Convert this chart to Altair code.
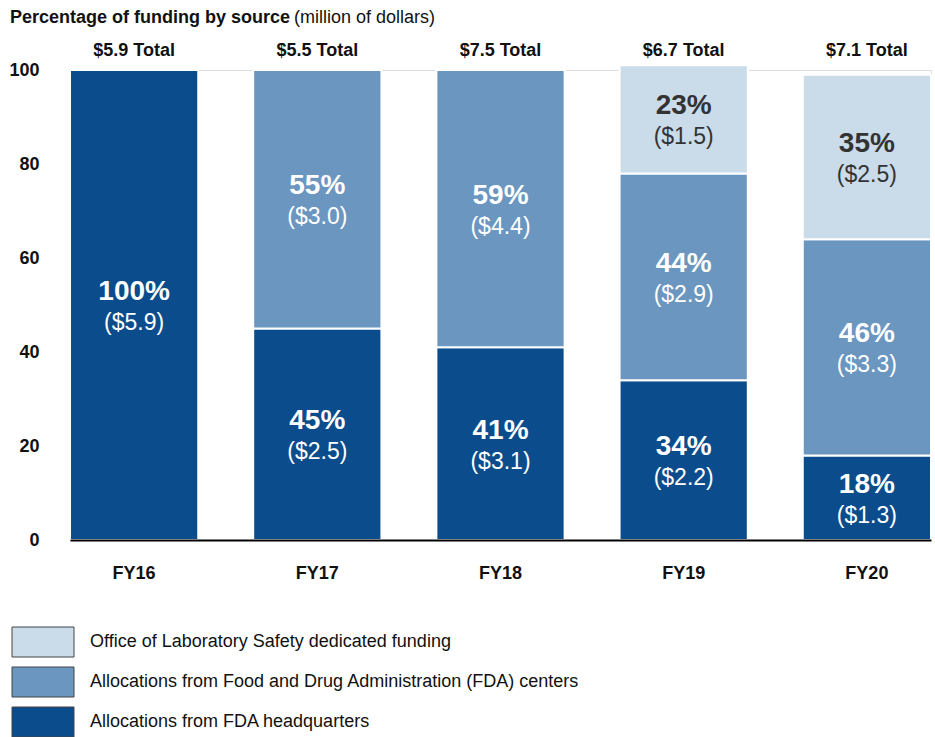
import altair as alt
import pandas as pd

years = ["FY16", "FY17", "FY18", "FY19", "FY20"]
totals = [5.9, 5.5, 7.5, 6.7, 7.1]
sources = [
    "Allocations from FDA headquarters",
    "Allocations from Food and Drug Administration (FDA) centers",
    "Office of Laboratory Safety dedicated funding",
]
hq_pct = [100, 45, 41, 34, 18]
hq_amt = [5.9, 2.5, 3.1, 2.2, 1.3]
ctr_pct = [0, 55, 59, 44, 46]
ctr_amt = [0, 3.0, 4.4, 2.9, 3.3]
ols_pct = [0, 0, 0, 23, 35]
ols_amt = [0, 0, 0, 1.5, 2.5]
colors = ["#0B4C8C", "#6A96C0", "#CADBEA"]
text_colors = ["white", "white", "#333333"]
title_bold = "Percentage of funding by source"
title_normal = "(million of dollars)"

FONT = "Liberation Sans"
FS = 18

rows = []
for si, (pcts, amts) in enumerate([(hq_pct, hq_amt), (ctr_pct, ctr_amt), (ols_pct, ols_amt)]):
    for y, p, a in zip(years, pcts, amts):
        rows.append({
            "year": y, "source": sources[si], "order": si, "pct": p,
            "pct_label": f"{p}%", "amt_label": f"(${a:.1f})",
            "tcolor": text_colors[si],
        })
df = pd.DataFrame(rows)
df_tot = pd.DataFrame({"year": years, "label": [f"${t:.1f} Total" for t in totals]})
df_leg = pd.DataFrame({"source": sources, "color": colors})

color_scale = alt.Scale(domain=sources, range=colors)
x_enc = alt.X(
    "year:N", sort=years, title=None,
    scale=alt.Scale(paddingInner=0.3, paddingOuter=0),
    axis=alt.Axis(labelAngle=0, ticks=False, domainColor="black", domainWidth=2,
                  labelFontSize=FS, labelFontWeight="bold", labelColor="#111111",
                  labelPadding=33, labelBaseline="middle", labelFont=FONT, zindex=1),
)
y_scale = alt.Scale(domain=[0, 100], nice=False)

base = (
    alt.Chart(df)
    .transform_filter("datum.pct > 0")
    .transform_stack(stack="pct", groupby=["year"], as_=["y0", "y1"],
                     sort=[alt.SortField("order", order="ascending")])
    .transform_calculate(mid="(datum.y0 + datum.y1) / 2")
)

bars = base.mark_bar(stroke="white", strokeWidth=2).encode(
    x=x_enc,
    y=alt.Y("y0:Q", scale=y_scale, title=None,
            axis=alt.Axis(values=[0, 20, 40, 60, 80, 100], ticks=False, domain=False,
                          grid=False, labelFontSize=FS, labelFontWeight="bold",
                          labelColor="#111111", labelPadding=31, labelFont=FONT)),
    y2="y1:Q",
    color=alt.Color("source:N", scale=color_scale, legend=None),
)

pct_text = base.mark_text(dy=-13, fontSize=28, fontWeight="bold", font=FONT,
                          baseline="middle").encode(
    x=alt.X("year:N", sort=years),
    y=alt.Y("mid:Q", scale=y_scale),
    text="pct_label:N",
    color=alt.Color("tcolor:N", scale=None),
)
amt_text = base.mark_text(dy=18, fontSize=23, font=FONT, baseline="middle").encode(
    x=alt.X("year:N", sort=years),
    y=alt.Y("mid:Q", scale=y_scale),
    text="amt_label:N",
    color=alt.Color("tcolor:N", scale=None),
)

tot_text = alt.Chart(df_tot).mark_text(dy=-19, fontSize=FS, fontWeight="bold", font=FONT,
                                       color="#111111", baseline="middle").encode(
    x=alt.X("year:N", sort=years),
    y=alt.datum(100),
    text="label:N",
)

t1 = alt.Chart(pd.DataFrame({"t": [title_bold]})).mark_text(
    align="left", baseline="middle", fontSize=FS, fontWeight="bold", font=FONT, color="#111111"
).encode(x=alt.value(-60), y=alt.value(-52), text="t:N")
t2 = alt.Chart(pd.DataFrame({"t": [title_normal]})).mark_text(
    align="left", baseline="middle", fontSize=FS, font=FONT, color="#111111"
).encode(x=alt.value(224), y=alt.value(-52), text="t:N")

leg_y = alt.Y("source:N", sort=sources[::-1], axis=None,
              scale=alt.Scale(range=[552, 672], paddingInner=0.25, paddingOuter=0.125))
leg_rect = alt.Chart(df_leg).mark_rect(stroke="#444444", strokeWidth=1).encode(
    x=alt.value(-58), x2=alt.value(4), y=leg_y,
    color=alt.Color("source:N", scale=color_scale, legend=None),
)
leg_text = alt.Chart(df_leg).mark_text(align="left", baseline="middle", fontSize=FS,
                                       font=FONT, color="#111111").encode(
    x=alt.value(20), y=leg_y, text="source:N",
)

main = alt.layer(bars, pct_text, amt_text, tot_text, t1, t2)
legend = alt.layer(leg_rect, leg_text)

chart = (
    alt.layer(main, legend)
    .resolve_scale(y="independent")
    .properties(
        width=861, height=470,
        autosize=alt.AutoSizeParams(type="none"),
        padding={"left": 70, "top": 70, "right": 4, "bottom": 197},
    )
    .configure_view(stroke=None)
    .configure(font=FONT)
)

chart.save("out.html", embed_options={"renderer": "svg", "actions": False})
